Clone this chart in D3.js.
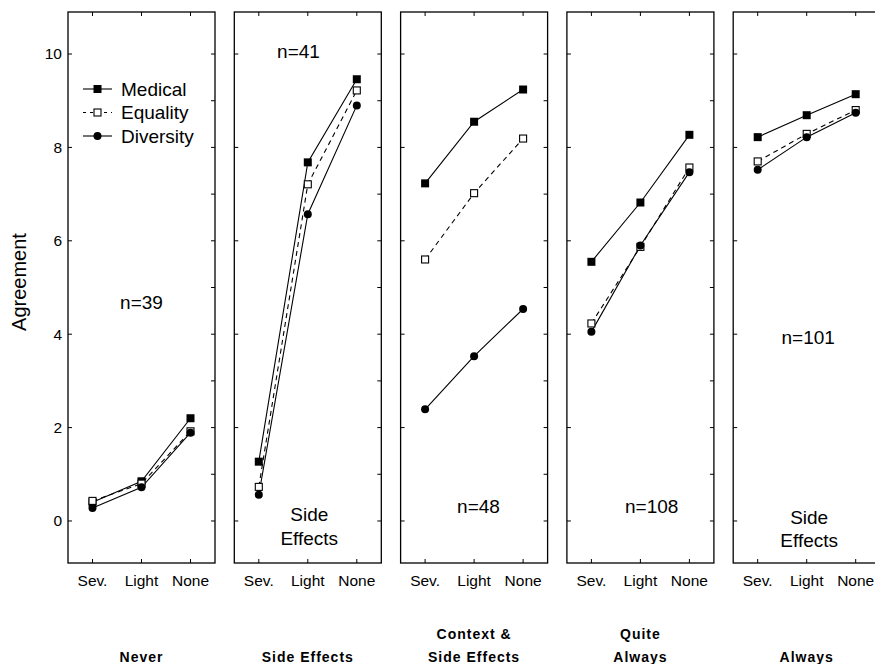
<!DOCTYPE html>
<html>
<head>
<meta charset="utf-8">
<script src="https://cdn.jsdelivr.net/npm/d3@7"></script>
<style>
  body { margin: 0; background: #fff; }
  text { font-family: "Liberation Sans", Arial, sans-serif; fill: #000; }
</style>
</head>
<body>
<div id="d3-container"></div>
<script>
/* DATA */
const categories = ["Sev.", "Light", "None"];
const panelTitles = [["Never"], ["Side Effects"], ["Context &", "Side Effects"], ["Quite", "Always"], ["Always"]];
const seriesNames = ["Medical", "Equality", "Diversity"];
// one row per panel, values for Sev. / Light / None
const medical = [
  [0.40, 0.85, 2.20],
  [1.27, 7.68, 9.46],
  [7.23, 8.55, 9.24],
  [5.55, 6.82, 8.27],
  [8.22, 8.69, 9.14]
];
const equality = [
  [0.43, 0.80, 1.92],
  [0.73, 7.21, 9.22],
  [5.60, 7.02, 8.19],
  [4.23, 5.87, 7.57],
  [7.70, 8.29, 8.80]
];
const diversity = [
  [0.28, 0.72, 1.89],
  [0.56, 6.57, 8.90],
  [2.39, 3.53, 4.54],
  [4.05, 5.90, 7.47],
  [7.52, 8.22, 8.74]
];
const yTicks = [0, 2, 4, 6, 8, 10];
// in-panel notes: [panel, text lines...]
const notes = [
  [0, "n=39"], [1, "n=41"], [1, "Side", "Effects"], [2, "n=48"],
  [3, "n=108"], [4, "n=101"], [4, "Side", "Effects"]
];

/* LAYOUT */
const width = 875, height = 664;
const panelW = 147, panelStep = 166.3, firstLeft = 68;
const plotTop = 12, plotBottom = 563;
const tickLen = 4;
// where the notes sit, in data units (x in category units, y in agreement units)
const notePos = [
  [1.0, 4.55], [0.81, 9.91], [1.03, -0.01], [1.09, 0.17],
  [1.23, 0.17], [1.03, 3.79], [1.05, -0.06]
];

const svg = d3.select("#d3-container")
  .append("svg")
  .attr("width", width)
  .attr("height", height);

const yScale = d3.scaleLinear().domain([-0.9, 10.9]).range([plotBottom, plotTop]);

const series = [
  { name: seriesNames[0], data: medical, dash: null, marker: "fsq" },
  { name: seriesNames[1], data: equality, dash: "5,4", marker: "osq" },
  { name: seriesNames[2], data: diversity, dash: null, marker: "dot" }
];

function drawMarker(g, type, x, y) {
  if (type === "dot") {
    g.append("circle").attr("cx", x).attr("cy", y).attr("r", 4).attr("fill", "#000");
  } else if (type === "fsq") {
    g.append("rect").attr("x", x - 4).attr("y", y - 4).attr("width", 8).attr("height", 8).attr("fill", "#000");
  } else {
    g.append("rect").attr("x", x - 3.5).attr("y", y - 3.5).attr("width", 7).attr("height", 7)
      .attr("fill", "#fff").attr("stroke", "#000").attr("stroke-width", 1.1);
  }
}

panelTitles.forEach((title, i) => {
  const left = firstLeft + i * panelStep;
  const xScale = d3.scaleLinear().domain([-0.5, 2.5]).range([left, left + panelW]);
  const g = svg.append("g").attr("class", "panel");

  // lines
  const lineFunc = d3.line()
    .x((d, j) => xScale(j))
    .y(d => yScale(d));
  series.forEach(s => {
    g.append("path")
      .attr("d", lineFunc(s.data[i]))
      .attr("fill", "none")
      .attr("stroke", "#000")
      .attr("stroke-width", 1.1)
      .attr("stroke-dasharray", s.dash);
  });
  // markers (Diversity drawn last, on top)
  series.forEach(s => {
    s.data[i].forEach((v, j) => drawMarker(g, s.marker, xScale(j), yScale(v)));
  });

  // frame
  g.append("rect")
    .attr("x", left).attr("y", plotTop)
    .attr("width", panelW).attr("height", plotBottom - plotTop)
    .attr("fill", "none").attr("stroke", "#000").attr("stroke-width", 1.3);

  // inward ticks
  categories.forEach((c, j) => {
    const x = xScale(j);
    g.append("line").attr("x1", x).attr("x2", x).attr("y1", plotTop).attr("y2", plotTop + tickLen).attr("stroke", "#000");
    g.append("line").attr("x1", x).attr("x2", x).attr("y1", plotBottom).attr("y2", plotBottom - tickLen).attr("stroke", "#000");
    g.append("text")
      .attr("x", x).attr("y", 586)
      .attr("text-anchor", "middle")
      .style("font-size", "15.5px")
      .text(c);
  });
  yTicks.forEach(t => {
    g.append("line").attr("x1", left).attr("x2", left + tickLen)
      .attr("y1", yScale(t)).attr("y2", yScale(t)).attr("stroke", "#000");
  });
  d3.range(0, 11).forEach(t => {
    g.append("line").attr("x1", left + panelW).attr("x2", left + panelW - tickLen)
      .attr("y1", yScale(t)).attr("y2", yScale(t)).attr("stroke", "#000");
  });

  // panel title under the plot
  const tt = g.append("text")
    .attr("text-anchor", "middle")
    .style("font-size", "14px")
    .style("font-weight", "bold")
    .style("letter-spacing", "1px");
  title.forEach((line, k) => {
    tt.append("tspan")
      .attr("x", xScale(1))
      .attr("y", 662 - (title.length - 1 - k) * 23)
      .text(line);
  });

  // notes inside this panel
  notes.forEach((n, k) => {
    if (n[0] !== i) return;
    const [px, py] = notePos[k];
    const lines = n.slice(1);
    const nt = g.append("text").attr("text-anchor", "middle").style("font-size", "19px");
    lines.forEach((line, m) => {
      nt.append("tspan")
        .attr("x", xScale(px))
        .attr("y", yScale(py) + m * 23.5)
        .text(line);
    });
  });

  // y tick labels on the first panel only
  if (i === 0) {
    yTicks.forEach(t => {
      g.append("text")
        .attr("x", left - 6).attr("y", yScale(t))
        .attr("dy", "0.35em")
        .attr("text-anchor", "end")
        .style("font-size", "15.5px")
        .text(t);
    });
  }
});

// y axis title
svg.append("text")
  .attr("transform", "translate(26, 282) rotate(-90)")
  .attr("text-anchor", "middle")
  .style("font-size", "20px")
  .text("Agreement");

// legend inside first panel
const legend = svg.append("g").attr("class", "legend");
series.forEach((s, k) => {
  const cy = 89 + k * 23.5;
  legend.append("line")
    .attr("x1", 83).attr("x2", 112).attr("y1", cy).attr("y2", cy)
    .attr("stroke", "#000").attr("stroke-width", 1.1)
    .attr("stroke-dasharray", s.dash ? "3,4" : null);
  drawMarker(legend, s.marker, 97.5, cy);
  legend.append("text")
    .attr("x", 121).attr("y", cy).attr("dy", "0.35em")
    .style("font-size", "19px")
    .text(s.name);
});
</script>
</body>
</html>
